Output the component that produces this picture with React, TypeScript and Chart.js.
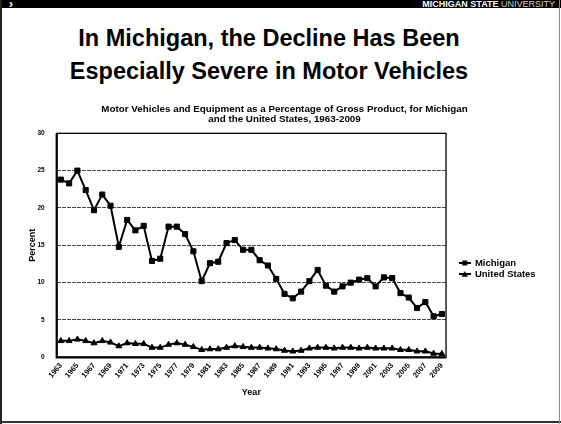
import React, { useEffect, useRef } from "react";
import { Chart, registerables } from "chart.js";

Chart.register(...registerables);

const years: string[] = [
  "1963","1964","1965","1966","1967","1968","1969","1970","1971","1972",
  "1973","1974","1975","1976","1977","1978","1979","1980","1981","1982",
  "1983","1984","1985","1986","1987","1988","1989","1990","1991","1992",
  "1993","1994","1995","1996","1997","1998","1999","2000","2001","2002",
  "2003","2004","2005","2006","2007","2008","2009",
];

const michigan: number[] = [
  23.8, 23.3, 25.0, 22.4, 19.7, 21.8, 20.3, 14.8, 18.4, 17.0,
  17.6, 12.9, 13.2, 17.5, 17.5, 16.5, 14.2, 10.2, 12.6, 12.8,
  15.3, 15.7, 14.4, 14.4, 13.0, 12.3, 10.5, 8.5, 7.9, 8.8,
  10.2, 11.7, 9.6, 8.8, 9.5, 10.0, 10.4, 10.6, 9.5, 10.7,
  10.6, 8.6, 8.0, 6.6, 7.4, 5.5, 5.8,
];

const unitedStates: number[] = [
  2.2, 2.2, 2.4, 2.2, 1.9, 2.2, 2.0, 1.5, 1.9, 1.8,
  1.8, 1.3, 1.3, 1.7, 1.9, 1.7, 1.4, 1.0, 1.1, 1.1,
  1.3, 1.5, 1.4, 1.3, 1.3, 1.2, 1.1, 0.9, 0.8, 0.9,
  1.2, 1.3, 1.3, 1.2, 1.3, 1.3, 1.2, 1.3, 1.2, 1.2,
  1.2, 1.0, 1.0, 0.8, 0.8, 0.5, 0.45,
];

const seriesNames: string[] = ["Michigan", "United States"];
const chartTitle: string[] = [
  "Motor Vehicles and Equipment as a Percentage of Gross Product, for Michigan",
  "and the United States, 1963-2009",
];
const slideTitle: string[] = [
  "In Michigan, the Decline Has Been",
  "Especially Severe in Motor Vehicles",
];
const yMin = 0;
const yMax = 30;
const yStep = 5;

const FONT = "'Liberation Sans', Arial, Helvetica, sans-serif";

function makeIcon(kind: "rect" | "triangle"): HTMLCanvasElement {
  const c = document.createElement("canvas");
  c.width = 12;
  c.height = 8;
  const ctx = c.getContext("2d")!;
  ctx.strokeStyle = "#000";
  ctx.lineWidth = 2;
  ctx.beginPath();
  ctx.moveTo(0, 4);
  ctx.lineTo(12, 4);
  ctx.stroke();
  ctx.fillStyle = "#000";
  if (kind === "rect") {
    ctx.fillRect(3.5, 1.5, 5, 5);
  } else {
    ctx.beginPath();
    ctx.moveTo(6, 1);
    ctx.lineTo(9.2, 6.8);
    ctx.lineTo(2.8, 6.8);
    ctx.closePath();
    ctx.fill();
  }
  return c;
}

const framePlugin = {
  id: "frame",
  beforeDatasetsDraw(chart: any) {
    const { ctx, chartArea: a } = chart;
    ctx.save();
    ctx.strokeStyle = "#000";
    ctx.lineWidth = 1.3;
    ctx.strokeRect(a.left, a.top, a.right - a.left, a.bottom - a.top);
    ctx.lineWidth = 2.2;
    ctx.beginPath();
    ctx.moveTo(a.left, a.top);
    ctx.lineTo(a.left, a.bottom);
    ctx.lineTo(a.right, a.bottom);
    ctx.stroke();
    ctx.restore();
  },
};

const placePlugin = {
  id: "place",
  afterLayout(chart: any) {
    const lg = chart.legend;
    if (lg) {
      const w = lg.width;
      const h = lg.height;
      lg.left = 457.7;
      lg.right = lg.left + w;
      lg.top = 160.75;
      lg.bottom = lg.top + h;
    }
    const tb = chart.titleBlock;
    if (tb) {
      tb.left = 0;
      tb.right = 569;
      tb.width = 569;
    }
  },
};

function SlideChart() {
  const ref = useRef<HTMLCanvasElement | null>(null);
  useEffect(() => {
    if (!ref.current) return;
    const icons = [makeIcon("rect"), makeIcon("triangle")];
    const chart = new Chart(ref.current, {
      type: "line",
      data: {
        labels: years,
        datasets: [
          {
            label: seriesNames[0],
            data: michigan,
            borderColor: "#000",
            backgroundColor: "#000",
            borderWidth: 2,
            pointStyle: "rect",
            pointRadius: 3.6,
            pointBorderWidth: 1,
            pointBackgroundColor: "#000",
            pointBorderColor: "#000",
            tension: 0,
          },
          {
            label: seriesNames[1],
            data: unitedStates,
            borderColor: "#000",
            backgroundColor: "#000",
            borderWidth: 2,
            pointStyle: "triangle",
            pointRadius: 3.4,
            pointBorderWidth: 1,
            pointBackgroundColor: "#000",
            pointBorderColor: "#000",
            tension: 0,
          },
        ],
      },
      options: {
        responsive: false,
        animation: false,
        devicePixelRatio: 1,
        layout: { padding: { left: 0, right: 27, top: 0, bottom: 8.7 } },
        plugins: {
          title: {
            display: true,
            text: chartTitle,
            color: "#000",
            font: { family: FONT, size: 9.8, weight: "bold", lineHeight: 0.95 },
            padding: { top: 9, bottom: 9.7 },
          },
          legend: {
            display: true,
            position: "right",
            align: "start",
            labels: {
              usePointStyle: true,
              pointStyleWidth: 11,
              padding: 1.5,
              color: "#000",
              font: { family: FONT, size: 9.5, weight: "bold" },
              generateLabels: (c: any) => {
                const items = (Chart as any).defaults.plugins.legend.labels.generateLabels(c);
                items.forEach((it: any, i: number) => {
                  it.pointStyle = icons[i];
                });
                return items;
              },
            },
          },
          tooltip: { enabled: false },
        },
        scales: {
          x: {
            type: "category",
            offset: true,
            grid: { display: false, drawTicks: false },
            border: { display: false },
            ticks: {
              autoSkip: false,
              minRotation: 50,
              maxRotation: 50,
              padding: 4,
              color: "#000",
              font: { family: FONT, size: 7.5, weight: "bold" },
              callback: (_v: any, i: number) => (i % 2 === 0 ? years[i] : ""),
            },
            title: {
              display: true,
              text: "Year",
              color: "#000",
              font: { family: FONT, size: 9, weight: "bold" },
              padding: { top: 0, bottom: 9.2 },
            },
            afterFit: (s: any) => {
              s.height = 50;
            },
          },
          y: {
            min: yMin,
            max: yMax,
            grid: {
              drawTicks: false,
              color: (ctx: any) =>
                ctx.tick && (ctx.tick.value === yMin || ctx.tick.value === yMax)
                  ? "rgba(0,0,0,0)"
                  : "#4a4a4a",
              lineWidth: 1,
            },
            border: { display: false, dash: [4, 1] },
            ticks: {
              stepSize: yStep,
              padding: 12,
              color: "#000",
              font: { family: FONT, size: 6.5, weight: "bold" },
            },
            title: {
              display: true,
              text: "Percent",
              color: "#000",
              font: { family: FONT, size: 9, weight: "bold" },
              padding: { top: 27.3, bottom: 0 },
            },
            afterFit: (s: any) => {
              s.width = 56.7;
            },
          },
        },
      } as any,
      plugins: [framePlugin, placePlugin],
    });
    return () => chart.destroy();
  }, []);
  return (
    <canvas
      ref={ref}
      width={561}
      height={320}
      style={{ position: "absolute", left: 0, top: 96, width: 561, height: 320 }}
    />
  );
}

export default function App() {
  return (
    <div
      style={{
        position: "fixed",
        left: 0,
        top: 0,
        width: 561,
        height: 424,
        background: "#fff",
        overflow: "hidden",
        fontFamily: FONT,
      }}
    >
      <div
        style={{
          position: "absolute",
          left: 0,
          top: 0,
          width: 561,
          height: 8,
          background: "#000",
        }}
      />
      <div
        style={{
          position: "absolute",
          left: 9,
          top: -3,
          color: "#fff",
          fontSize: 12,
          fontWeight: "bold",
          lineHeight: "14px",
        }}
      >
        ›
      </div>
      <div
        style={{
          position: "absolute",
          right: 6,
          top: 0,
          color: "#fff",
          fontSize: 9,
          lineHeight: "8px",
          whiteSpace: "nowrap",
        }}
      >
        <span style={{ fontWeight: "bold" }}>MICHIGAN STATE</span>
        <span style={{ fontWeight: "normal", color: "#ccc" }}> UNIVERSITY</span>
      </div>
      {slideTitle.map((t, i) => (
        <div
          key={i}
          style={{
            position: "absolute",
            left: 0,
            width: 538,
            top: 22 + i * 33,
            textAlign: "center",
            fontSize: 23.5,
            fontWeight: "bold",
            lineHeight: "33px",
            color: "#000",
            whiteSpace: "nowrap",
          }}
        >
          {t}
        </div>
      ))}
      <SlideChart />
      <div
        style={{
          position: "absolute",
          left: 0,
          top: 0,
          width: 2,
          height: 424,
          background: "#222",
        }}
      />
      <div
        style={{
          position: "absolute",
          left: 0,
          top: 421,
          width: 561,
          height: 2,
          background: "#333",
        }}
      />
      <div
        style={{
          position: "absolute",
          left: 559,
          top: 0,
          width: 1,
          height: 424,
          background: "#888",
        }}
      />
    </div>
  );
}
